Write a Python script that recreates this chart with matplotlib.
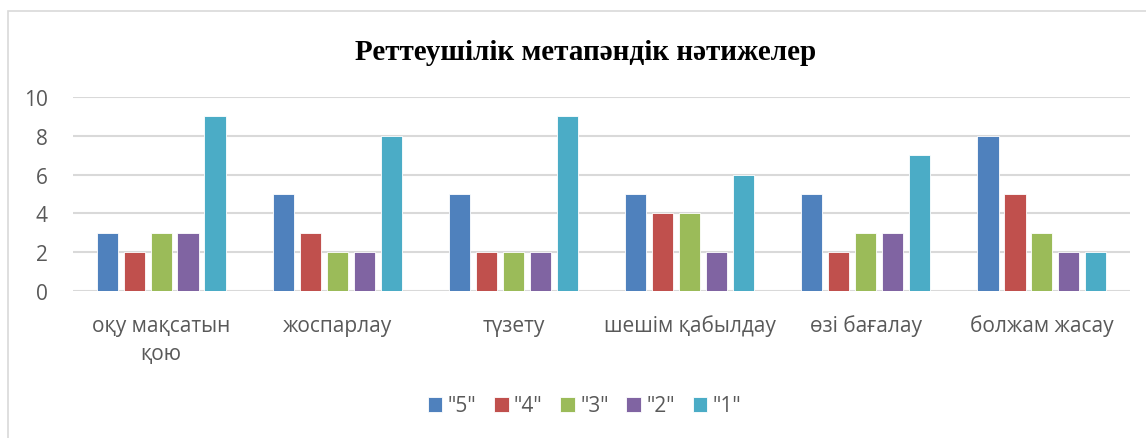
import matplotlib
matplotlib.use("Agg")
import matplotlib.pyplot as plt
import numpy as np
from matplotlib.patches import Rectangle

categories = ["оқу мақсатын\nқою", "жоспарлау", "түзету", "шешім қабылдау", "өзі бағалау", "болжам жасау"]
series_names = ['"5"', '"4"', '"3"', '"2"', '"1"']
s5 = [3, 5, 5, 5, 5, 8]
s4 = [2, 3, 2, 4, 2, 5]
s3 = [3, 2, 2, 4, 3, 3]
s2 = [3, 2, 2, 2, 3, 2]
s1 = [9, 8, 9, 6, 7, 2]
series = [s5, s4, s3, s2, s1]
colors = ["#4F81BD", "#C0504D", "#9BBB59", "#8064A2", "#4BACC6"]
title = "Реттеушілік метапәндік нәтижелер"

plt.rcParams['font.family'] = ['Open Sans', 'DejaVu Sans']

fig = plt.figure(figsize=(11.46, 4.39), dpi=100)
ax = fig.add_axes([73/1146, 1-292/439, (1130-73)/1146, (292-98)/439])

x = np.arange(len(categories))
step = 0.153
width = 0.12
for i, (vals, name, c) in enumerate(zip(series, series_names, colors)):
    ax.bar(x + (i-2)*step, vals, width, color=c, label=name, zorder=3,
           edgecolor='white', linewidth=0.6)

ax.set_xlim(-0.5, len(categories)-0.5)
ax.set_ylim(0, 10)
ax.set_yticks(range(0, 11, 2))
ax.yaxis.grid(True, color='#D9D9D9', linewidth=1.5, zorder=0)
ax.set_axisbelow(True)
for s in ax.spines.values():
    s.set_visible(False)
ax.tick_params(axis='both', length=0, colors='#595959', labelsize=15)
ax.tick_params(axis='y', pad=18)
ax.set_xticks(x)
ax.set_xticklabels(categories, linespacing=1.45)
ax.tick_params(axis='x', pad=17)

fig.text(0.511, 1-52/439, title, ha='center', va='center', fontsize=21,
         fontweight='bold', family=['Liberation Serif', 'DejaVu Serif'])

leg = fig.legend(loc='center', bbox_to_anchor=(0.51, 1-407/439), ncol=5, frameon=False,
                 fontsize=15, handlelength=0.7, handleheight=0.7, handletextpad=0.25,
                 columnspacing=0.85, labelcolor='#595959')

fig.patches.append(Rectangle((8/1146, -0.05), 1.2, 1-12/439+0.05, transform=fig.transFigure,
                             fill=False, edgecolor='#D9D9D9', linewidth=1.2))

fig.savefig("out.png", dpi=100)
